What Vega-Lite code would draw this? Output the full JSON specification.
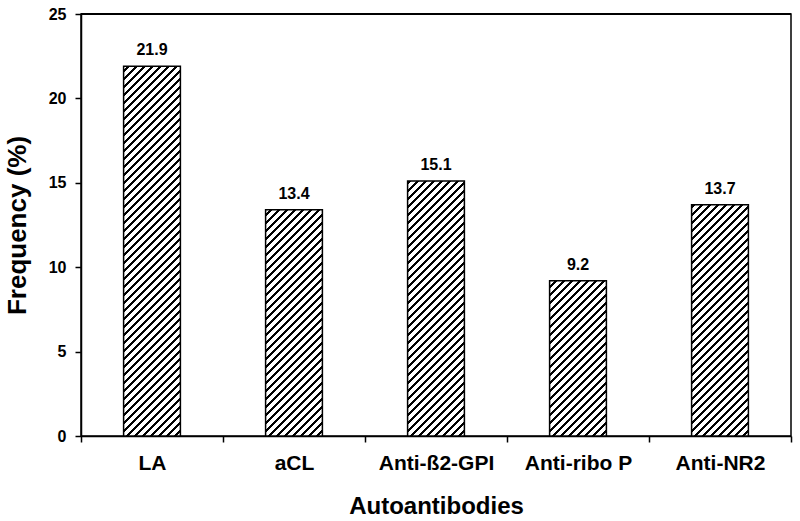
{
 "$schema": "https://vega.github.io/schema/vega-lite/v6.json",
 "width": 710,
 "height": 422,
 "autosize": {"type": "none"},
 "padding": {"left": 81, "top": 14, "right": 9, "bottom": 85},
 "background": "white",
 "config": {"view": {"stroke": "black", "strokeWidth": 1.5}, "font": "Liberation Sans"},
 "data": {"values": [
  {"antibody": "LA", "value": 21.9},
  {"antibody": "aCL", "value": 13.4},
  {"antibody": "Anti-ß2-GPI", "value": 15.1},
  {"antibody": "Anti-ribo P", "value": 9.2},
  {"antibody": "Anti-NR2", "value": 13.7}
 ]},
 "layer": [
  {
   "mark": {"type": "bar", "width": {"band": 0.4},
    "fill": {"gradient": "linear", "x1": 0, "y1": 0, "x2": 0.15037, "y2": 1.11719, "stops": [
{"offset":0,"color":"#000"},{"offset":0.00625,"color":"#000"},{"offset":0.00625,"color":"#fff"},{"offset":0.01667,"color":"#fff"},
{"offset":0.01667,"color":"#000"},{"offset":0.02292,"color":"#000"},{"offset":0.02292,"color":"#fff"},{"offset":0.03333,"color":"#fff"},
{"offset":0.03333,"color":"#000"},{"offset":0.03958,"color":"#000"},{"offset":0.03958,"color":"#fff"},{"offset":0.05,"color":"#fff"},
{"offset":0.05,"color":"#000"},{"offset":0.05625,"color":"#000"},{"offset":0.05625,"color":"#fff"},{"offset":0.06667,"color":"#fff"},
{"offset":0.06667,"color":"#000"},{"offset":0.07292,"color":"#000"},{"offset":0.07292,"color":"#fff"},{"offset":0.08333,"color":"#fff"},
{"offset":0.08333,"color":"#000"},{"offset":0.08958,"color":"#000"},{"offset":0.08958,"color":"#fff"},{"offset":0.1,"color":"#fff"},
{"offset":0.1,"color":"#000"},{"offset":0.10625,"color":"#000"},{"offset":0.10625,"color":"#fff"},{"offset":0.11667,"color":"#fff"},
{"offset":0.11667,"color":"#000"},{"offset":0.12292,"color":"#000"},{"offset":0.12292,"color":"#fff"},{"offset":0.13333,"color":"#fff"},
{"offset":0.13333,"color":"#000"},{"offset":0.13958,"color":"#000"},{"offset":0.13958,"color":"#fff"},{"offset":0.15,"color":"#fff"},
{"offset":0.15,"color":"#000"},{"offset":0.15625,"color":"#000"},{"offset":0.15625,"color":"#fff"},{"offset":0.16667,"color":"#fff"},
{"offset":0.16667,"color":"#000"},{"offset":0.17292,"color":"#000"},{"offset":0.17292,"color":"#fff"},{"offset":0.18333,"color":"#fff"},
{"offset":0.18333,"color":"#000"},{"offset":0.18958,"color":"#000"},{"offset":0.18958,"color":"#fff"},{"offset":0.2,"color":"#fff"},
{"offset":0.2,"color":"#000"},{"offset":0.20625,"color":"#000"},{"offset":0.20625,"color":"#fff"},{"offset":0.21667,"color":"#fff"},
{"offset":0.21667,"color":"#000"},{"offset":0.22292,"color":"#000"},{"offset":0.22292,"color":"#fff"},{"offset":0.23333,"color":"#fff"},
{"offset":0.23333,"color":"#000"},{"offset":0.23958,"color":"#000"},{"offset":0.23958,"color":"#fff"},{"offset":0.25,"color":"#fff"},
{"offset":0.25,"color":"#000"},{"offset":0.25625,"color":"#000"},{"offset":0.25625,"color":"#fff"},{"offset":0.26667,"color":"#fff"},
{"offset":0.26667,"color":"#000"},{"offset":0.27292,"color":"#000"},{"offset":0.27292,"color":"#fff"},{"offset":0.28333,"color":"#fff"},
{"offset":0.28333,"color":"#000"},{"offset":0.28958,"color":"#000"},{"offset":0.28958,"color":"#fff"},{"offset":0.3,"color":"#fff"},
{"offset":0.3,"color":"#000"},{"offset":0.30625,"color":"#000"},{"offset":0.30625,"color":"#fff"},{"offset":0.31667,"color":"#fff"},
{"offset":0.31667,"color":"#000"},{"offset":0.32292,"color":"#000"},{"offset":0.32292,"color":"#fff"},{"offset":0.33333,"color":"#fff"},
{"offset":0.33333,"color":"#000"},{"offset":0.33958,"color":"#000"},{"offset":0.33958,"color":"#fff"},{"offset":0.35,"color":"#fff"},
{"offset":0.35,"color":"#000"},{"offset":0.35625,"color":"#000"},{"offset":0.35625,"color":"#fff"},{"offset":0.36667,"color":"#fff"},
{"offset":0.36667,"color":"#000"},{"offset":0.37292,"color":"#000"},{"offset":0.37292,"color":"#fff"},{"offset":0.38333,"color":"#fff"},
{"offset":0.38333,"color":"#000"},{"offset":0.38958,"color":"#000"},{"offset":0.38958,"color":"#fff"},{"offset":0.4,"color":"#fff"},
{"offset":0.4,"color":"#000"},{"offset":0.40625,"color":"#000"},{"offset":0.40625,"color":"#fff"},{"offset":0.41667,"color":"#fff"},
{"offset":0.41667,"color":"#000"},{"offset":0.42292,"color":"#000"},{"offset":0.42292,"color":"#fff"},{"offset":0.43333,"color":"#fff"},
{"offset":0.43333,"color":"#000"},{"offset":0.43958,"color":"#000"},{"offset":0.43958,"color":"#fff"},{"offset":0.45,"color":"#fff"},
{"offset":0.45,"color":"#000"},{"offset":0.45625,"color":"#000"},{"offset":0.45625,"color":"#fff"},{"offset":0.46667,"color":"#fff"},
{"offset":0.46667,"color":"#000"},{"offset":0.47292,"color":"#000"},{"offset":0.47292,"color":"#fff"},{"offset":0.48333,"color":"#fff"},
{"offset":0.48333,"color":"#000"},{"offset":0.48958,"color":"#000"},{"offset":0.48958,"color":"#fff"},{"offset":0.5,"color":"#fff"},
{"offset":0.5,"color":"#000"},{"offset":0.50625,"color":"#000"},{"offset":0.50625,"color":"#fff"},{"offset":0.51667,"color":"#fff"},
{"offset":0.51667,"color":"#000"},{"offset":0.52292,"color":"#000"},{"offset":0.52292,"color":"#fff"},{"offset":0.53333,"color":"#fff"},
{"offset":0.53333,"color":"#000"},{"offset":0.53958,"color":"#000"},{"offset":0.53958,"color":"#fff"},{"offset":0.55,"color":"#fff"},
{"offset":0.55,"color":"#000"},{"offset":0.55625,"color":"#000"},{"offset":0.55625,"color":"#fff"},{"offset":0.56667,"color":"#fff"},
{"offset":0.56667,"color":"#000"},{"offset":0.57292,"color":"#000"},{"offset":0.57292,"color":"#fff"},{"offset":0.58333,"color":"#fff"},
{"offset":0.58333,"color":"#000"},{"offset":0.58958,"color":"#000"},{"offset":0.58958,"color":"#fff"},{"offset":0.6,"color":"#fff"},
{"offset":0.6,"color":"#000"},{"offset":0.60625,"color":"#000"},{"offset":0.60625,"color":"#fff"},{"offset":0.61667,"color":"#fff"},
{"offset":0.61667,"color":"#000"},{"offset":0.62292,"color":"#000"},{"offset":0.62292,"color":"#fff"},{"offset":0.63333,"color":"#fff"},
{"offset":0.63333,"color":"#000"},{"offset":0.63958,"color":"#000"},{"offset":0.63958,"color":"#fff"},{"offset":0.65,"color":"#fff"},
{"offset":0.65,"color":"#000"},{"offset":0.65625,"color":"#000"},{"offset":0.65625,"color":"#fff"},{"offset":0.66667,"color":"#fff"},
{"offset":0.66667,"color":"#000"},{"offset":0.67292,"color":"#000"},{"offset":0.67292,"color":"#fff"},{"offset":0.68333,"color":"#fff"},
{"offset":0.68333,"color":"#000"},{"offset":0.68958,"color":"#000"},{"offset":0.68958,"color":"#fff"},{"offset":0.7,"color":"#fff"},
{"offset":0.7,"color":"#000"},{"offset":0.70625,"color":"#000"},{"offset":0.70625,"color":"#fff"},{"offset":0.71667,"color":"#fff"},
{"offset":0.71667,"color":"#000"},{"offset":0.72292,"color":"#000"},{"offset":0.72292,"color":"#fff"},{"offset":0.73333,"color":"#fff"},
{"offset":0.73333,"color":"#000"},{"offset":0.73958,"color":"#000"},{"offset":0.73958,"color":"#fff"},{"offset":0.75,"color":"#fff"},
{"offset":0.75,"color":"#000"},{"offset":0.75625,"color":"#000"},{"offset":0.75625,"color":"#fff"},{"offset":0.76667,"color":"#fff"},
{"offset":0.76667,"color":"#000"},{"offset":0.77292,"color":"#000"},{"offset":0.77292,"color":"#fff"},{"offset":0.78333,"color":"#fff"},
{"offset":0.78333,"color":"#000"},{"offset":0.78958,"color":"#000"},{"offset":0.78958,"color":"#fff"},{"offset":0.8,"color":"#fff"},
{"offset":0.8,"color":"#000"},{"offset":0.80625,"color":"#000"},{"offset":0.80625,"color":"#fff"},{"offset":0.81667,"color":"#fff"},
{"offset":0.81667,"color":"#000"},{"offset":0.82292,"color":"#000"},{"offset":0.82292,"color":"#fff"},{"offset":0.83333,"color":"#fff"},
{"offset":0.83333,"color":"#000"},{"offset":0.83958,"color":"#000"},{"offset":0.83958,"color":"#fff"},{"offset":0.85,"color":"#fff"},
{"offset":0.85,"color":"#000"},{"offset":0.85625,"color":"#000"},{"offset":0.85625,"color":"#fff"},{"offset":0.86667,"color":"#fff"},
{"offset":0.86667,"color":"#000"},{"offset":0.87292,"color":"#000"},{"offset":0.87292,"color":"#fff"},{"offset":0.88333,"color":"#fff"},
{"offset":0.88333,"color":"#000"},{"offset":0.88958,"color":"#000"},{"offset":0.88958,"color":"#fff"},{"offset":0.9,"color":"#fff"},
{"offset":0.9,"color":"#000"},{"offset":0.90625,"color":"#000"},{"offset":0.90625,"color":"#fff"},{"offset":0.91667,"color":"#fff"},
{"offset":0.91667,"color":"#000"},{"offset":0.92292,"color":"#000"},{"offset":0.92292,"color":"#fff"},{"offset":0.93333,"color":"#fff"},
{"offset":0.93333,"color":"#000"},{"offset":0.93958,"color":"#000"},{"offset":0.93958,"color":"#fff"},{"offset":0.95,"color":"#fff"},
{"offset":0.95,"color":"#000"},{"offset":0.95625,"color":"#000"},{"offset":0.95625,"color":"#fff"},{"offset":0.96667,"color":"#fff"},
{"offset":0.96667,"color":"#000"},{"offset":0.97292,"color":"#000"},{"offset":0.97292,"color":"#fff"},{"offset":0.98333,"color":"#fff"},
{"offset":0.98333,"color":"#000"},{"offset":0.98958,"color":"#000"},{"offset":0.98958,"color":"#fff"},{"offset":1,"color":"#fff"}
    ]}},
   "encoding": {
    "x": {"field": "antibody", "type": "nominal", "sort": null,
     "scale": {"paddingInner": 0, "paddingOuter": 0},
     "axis": {"title": "Autoantibodies", "titleFontSize": 24, "titleFontWeight": "bold", "titleColor": "black", "titlePadding": 21,
      "labelFontSize": 21, "labelFontWeight": "bold", "labelColor": "black", "labelAngle": 0, "labelPadding": 10,
      "tickBand": "extent", "tickSize": 6, "tickColor": "black", "tickWidth": 1.5, "domainColor": "black", "domainWidth": 1.5}},
    "y": {"datum": 25, "type": "quantitative", "title": "Frequency (%)",
     "scale": {"domain": [0, 25], "nice": false},
     "axis": {"values": [0, 5, 10, 15, 20, 25], "grid": false,
      "labelFontSize": 16, "labelFontWeight": "bold", "labelColor": "black", "labelPadding": 9,
      "tickSize": 6, "tickColor": "black", "tickWidth": 1.5, "domainColor": "black", "domainWidth": 1.5,
      "titleFontSize": 26, "titleFontWeight": "bold", "titleColor": "black", "titlePadding": 18}},
    "y2": {"datum": 0}
   }
  },
  {
   "mark": {"type": "bar", "width": {"band": 0.44}, "fill": "white"},
   "encoding": {
    "x": {"field": "antibody", "type": "nominal", "sort": null, "title": "Autoantibodies"},
    "y": {"field": "value", "type": "quantitative", "title": "Frequency (%)"},
    "y2": {"datum": 25}
   }
  },
  {
   "mark": {"type": "bar", "width": {"band": 0.4}, "fill": "white", "fillOpacity": 0, "stroke": "black", "strokeWidth": 1.5},
   "encoding": {
    "x": {"field": "antibody", "type": "nominal", "sort": null, "title": "Autoantibodies"},
    "y": {"field": "value", "type": "quantitative", "title": "Frequency (%)"}
   }
  },
  {
   "mark": {"type": "text", "align": "center", "baseline": "alphabetic", "dy": -11, "fontSize": 16, "fontWeight": "bold", "color": "black"},
   "encoding": {
    "x": {"field": "antibody", "type": "nominal", "sort": null, "title": "Autoantibodies"},
    "y": {"field": "value", "type": "quantitative", "title": "Frequency (%)"},
    "text": {"field": "value", "type": "quantitative", "format": ".1f"}
   }
  },
  {
   "mark": {"type": "rule", "color": "black", "strokeWidth": 1.5},
   "encoding": {
    "y": {"datum": 25, "type": "quantitative", "title": "Frequency (%)"}
   }
  }
 ]
}
